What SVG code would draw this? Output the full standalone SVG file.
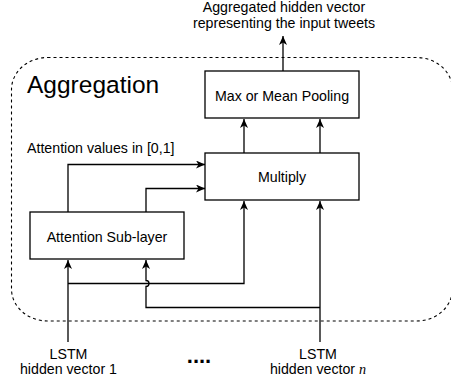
<svg xmlns="http://www.w3.org/2000/svg" width="451" height="385" viewBox="0 0 451 385">
  <style>
    .box { fill: #ffffff; stroke: #000000; stroke-width: 1.3; }
    .edge { fill: none; stroke: #000000; stroke-width: 1.3; }
    .frame { fill: none; stroke: #000000; stroke-width: 1.1; stroke-dasharray: 3 3; }
    text { font-family: "Liberation Sans", Arial, Helvetica, sans-serif; font-size: 14.2px; fill: #000000; }
    .mid { text-anchor: middle; }
  </style>
  <defs>
    <marker id="arrow" markerUnits="userSpaceOnUse" markerWidth="10" markerHeight="10" refX="9" refY="4" orient="auto">
      <path d="M0,0 L9,4 L0,8 L2.5,4 Z" fill="#000000"/>
    </marker>
  </defs>

  <!-- Aggregation block outline -->
  <g id="aggregation">
    <rect class="frame" x="11.5" y="57.5" width="441" height="263.5" rx="36" ry="32"/>
    <text x="27" y="93" style="font-size:24.5px">Aggregation</text>
  </g>

  <!-- connectors -->
  <g id="connectors">
    <path class="edge" d="M283,71 V36" marker-end="url(#arrow)"/>
    <path class="edge" d="M244,153 V119" marker-end="url(#arrow)"/>
    <path class="edge" d="M320,153 V119" marker-end="url(#arrow)"/>
    <path class="edge" d="M68,212 V164.5 H205" marker-end="url(#arrow)"/>
    <path class="edge" d="M146,212 V188.5 H205" marker-end="url(#arrow)"/>
    <path class="edge" d="M68,342 V260" marker-end="url(#arrow)"/>
    <path class="edge" d="M68,283.5 H244 V201" marker-end="url(#arrow)"/>
    <path class="edge" d="M320,342 V201" marker-end="url(#arrow)"/>
    <path class="edge" d="M320,307.5 H146 V286.5 A3,3 0 0 0 146,280.5 V260" marker-end="url(#arrow)"/>
  </g>

  <g id="pooling">
    <rect class="box" x="205" y="71" width="154" height="47"/>
    <text class="mid" x="282" y="101">Max or Mean Pooling</text>
  </g>

  <g id="multiply">
    <rect class="box" x="205" y="153" width="154" height="47"/>
    <text class="mid" x="282" y="182">Multiply</text>
  </g>

  <g id="attention">
    <rect class="box" x="30" y="212" width="154" height="47"/>
    <text class="mid" x="107" y="242">Attention Sub-layer</text>
  </g>

  <g id="attention-label">
    <text x="27" y="153">Attention values in [0,1]</text>
  </g>

  <g id="output-label">
    <text class="mid" x="284" y="12">Aggregated hidden vector</text>
    <text class="mid" x="284" y="27.5">representing the input tweets</text>
  </g>

  <g id="lstm-1">
    <text class="mid" x="68.5" y="359">LSTM</text>
    <text class="mid" x="68.5" y="373.5">hidden vector 1</text>
  </g>

  <g id="ellipsis">
    <text class="mid" x="199" y="362.5" style="font-size:22px;font-weight:bold">....</text>
  </g>

  <g id="lstm-n">
    <text class="mid" x="318" y="359">LSTM</text>
    <text class="mid" x="318" y="373.5">hidden vector <tspan style="font-family:'Liberation Serif','Times New Roman',serif;font-style:italic">n</tspan></text>
  </g>
</svg>
